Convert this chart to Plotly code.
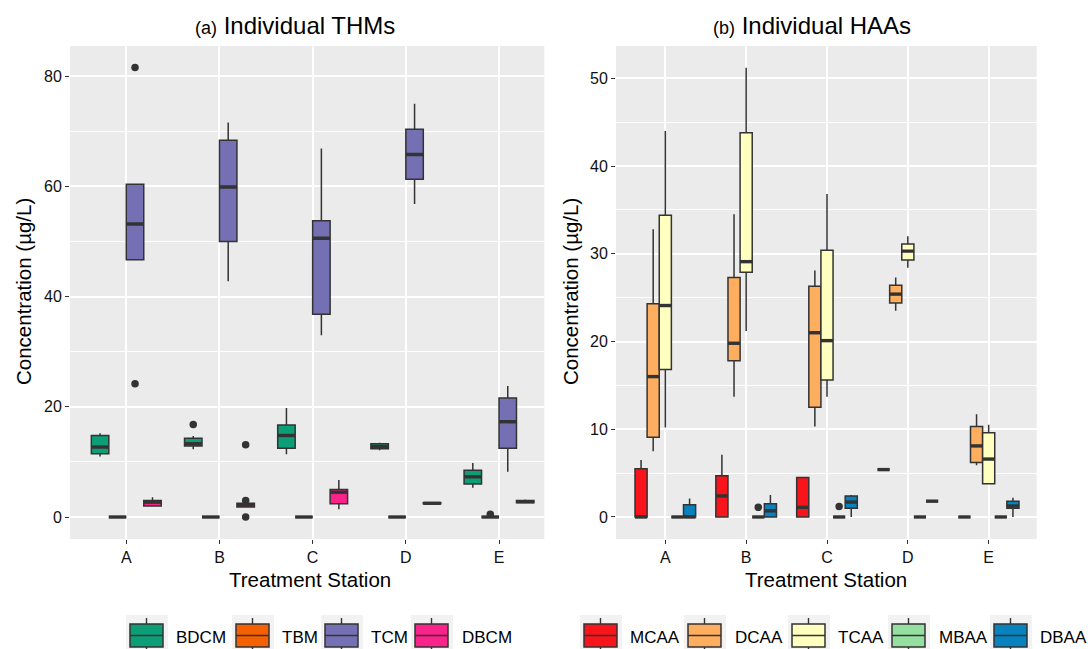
import plotly.graph_objects as go

# ---------------- data ----------------
stations = ["A", "B", "C", "D", "E"]

thm_names = ["BDCM", "TBM", "TCM", "DBCM"]
thm_colors = ["#0C9E77", "#F56002", "#7570B3", "#FA2389"]
thm_lower = [[11.0, 12.3, 11.4, 12.1, 5.3],
             [0, 0, 0, 0, 0],
             [46.7, 42.8, 33.0, 56.8, 8.2],
             [2.0, 1.8, 1.4, 2.4, 2.6]]
thm_q1 = [[11.5, 12.9, 12.5, 12.4, 6.0],
          [0, 0, 0, 0, 0],
          [46.7, 50.0, 36.8, 61.3, 12.5],
          [2.0, 1.8, 2.4, 2.4, 2.6]]
thm_median = [[12.7, 13.3, 14.8, 12.8, 7.3],
              [0, 0, 0, 0, 0],
              [53.2, 59.9, 50.6, 65.8, 17.3],
              [2.7, 2.2, 4.5, 2.5, 2.8]]
thm_q3 = [[14.8, 14.3, 16.7, 13.3, 8.5],
          [0, 0, 0, 0, 0],
          [60.4, 68.4, 53.8, 70.4, 21.6],
          [3.0, 2.5, 5.0, 2.6, 3.0]]
thm_upper = [[15.2, 14.7, 19.8, 13.5, 9.8],
             [0, 0, 0, 0, 0],
             [60.4, 71.6, 66.9, 75.0, 23.8],
             [3.6, 2.5, 6.7, 2.6, 3.2]]
thm_outliers = [[[], [16.8], [], [], []],
                [[], [], [], [], [0.5]],
                [[81.6, 24.2], [], [], [], []],
                [[], [13.1, 3.0, 0.0], [], [], []]]

haa_names = ["MCAA", "DCAA", "TCAA", "MBAA", "DBAA"]
haa_colors = ["#F8141A", "#FDAE5E", "#FFFFC0", "#95DFA0", "#0683BF"]
haa_lower = [[0, 0, 0, 5.4, 0],
             [7.5, 13.7, 10.3, 23.5, 5.9],
             [10.2, 21.2, 13.7, 28.4, 3.8],
             [0, 0, 0, 0, 0],
             [0, 0, 0, 1.8, 0]]
haa_q1 = [[0, 0, 0, 5.4, 0],
          [9.1, 17.8, 12.5, 24.4, 6.2],
          [16.8, 27.9, 15.6, 29.3, 3.8],
          [0, 0, 0, 0, 0],
          [0, 0, 1.0, 1.8, 1.0]]
haa_median = [[0, 2.4, 1.1, 5.4, 0],
              [16.0, 19.8, 21.0, 25.4, 8.1],
              [24.1, 29.1, 20.1, 30.3, 6.6],
              [0, 0, 0, 0, 0],
              [0, 0.7, 1.7, 1.8, 1.25]]
haa_q3 = [[5.5, 4.7, 4.5, 5.4, 0],
          [24.3, 27.3, 26.3, 26.4, 10.3],
          [34.4, 43.8, 30.4, 31.1, 9.6],
          [0, 0, 0, 0, 0],
          [1.4, 1.5, 2.4, 1.8, 1.8]]
haa_upper = [[6.5, 7.1, 4.5, 5.4, 0],
             [32.8, 34.5, 28.1, 27.3, 11.7],
             [44.0, 51.2, 36.8, 32.0, 10.5],
             [0, 0, 0, 0, 0],
             [2.1, 2.5, 2.5, 1.8, 2.2]]
haa_outliers = [[[], [], [], [], []],
                [[], [], [], [], []],
                [[], [], [], [], []],
                [[], [1.1], [1.2], [], []],
                [[], [], [], [], []]]

# ---------------- styling ----------------
W, H = 1088, 649
FONT = "Liberation Sans, Arial, sans-serif"
DARK = "#333333"
PANEL = "#EBEBEB"


def X(px):
    return px / W


def Y(py):
    return 1 - py / H


fig = go.Figure()


def add_panel(names, colors, lower, q1, med, q3, upper, outl, xref, yref):
    n = len(names)
    w = 0.75 / n
    for s in range(n):
        xs = [i + (s - (n - 1) / 2) * w for i in range(len(stations))]
        fig.add_trace(go.Box(
            x=xs, q1=q1[s], median=med[s], q3=q3[s],
            lowerfence=lower[s], upperfence=upper[s],
            width=w, whiskerwidth=0, boxpoints=False,
            fillcolor=colors[s], line=dict(color=DARK, width=1.5),
            name=names[s], showlegend=False, hoverinfo="skip",
            xaxis=xref, yaxis=yref))
        # thick median line (ggplot style)
        mx, my = [], []
        for i, xc in enumerate(xs):
            mx += [xc - w / 2, xc + w / 2, None]
            my += [med[s][i], med[s][i], None]
        fig.add_trace(go.Scatter(x=mx, y=my, mode="lines",
                                 line=dict(color=DARK, width=3.4),
                                 showlegend=False, hoverinfo="skip",
                                 xaxis=xref, yaxis=yref))
        ox, oy = [], []
        for i, xc in enumerate(xs):
            for v in outl[s][i]:
                ox.append(xc)
                oy.append(v)
        if ox:
            fig.add_trace(go.Scatter(x=ox, y=oy, mode="markers",
                                     marker=dict(color=DARK, size=7.5),
                                     showlegend=False, hoverinfo="skip",
                                     xaxis=xref, yaxis=yref))


add_panel(thm_names, thm_colors, thm_lower, thm_q1, thm_median, thm_q3,
          thm_upper, thm_outliers, "x", "y")
add_panel(haa_names, haa_colors, haa_lower, haa_q1, haa_median, haa_q3,
          haa_upper, haa_outliers, "x2", "y2")

xcommon = dict(tickmode="array", tickvals=list(range(len(stations))),
               ticktext=stations, showgrid=True, gridcolor="white",
               gridwidth=1.6, zeroline=False, showline=False,
               ticks="outside", ticklen=4, tickcolor=DARK, tickwidth=1.1,
               tickfont=dict(family=FONT, size=16, color="#111111"),
               fixedrange=True)
ycommon = dict(showgrid=True, gridcolor="white", gridwidth=1.6,
               zeroline=False, showline=False, ticks="outside", ticklen=4,
               tickcolor=DARK, tickwidth=1.1,
               tickfont=dict(family=FONT, size=16, color="#111111"),
               domain=[Y(539), Y(46)], fixedrange=True)

fig.update_layout(
    width=W, height=H,
    margin=dict(l=0, r=0, t=0, b=0),
    paper_bgcolor="white", plot_bgcolor=PANEL,
    xaxis=dict(xcommon, domain=[X(70), X(544.3)], range=[-0.604, 4.486],
               anchor="y"),
    xaxis2=dict(xcommon, domain=[X(616), X(1036.7)], range=[-0.61, 4.594],
                anchor="y2"),
    yaxis=dict(ycommon, range=[-3.99, 85.5], tickvals=[0, 20, 40, 60, 80],
               minor=dict(tickvals=[10, 30, 50, 70], showgrid=True,
                          gridcolor="white", gridwidth=0.8, ticks=""),
               anchor="x"),
    yaxis2=dict(ycommon, range=[-2.51, 53.68],
                tickvals=[0, 10, 20, 30, 40, 50],
                minor=dict(tickvals=[5, 15, 25, 35, 45], showgrid=True,
                           gridcolor="white", gridwidth=0.8, ticks=""),
                anchor="x2"),
    showlegend=False,
)

# ---------------- titles ----------------
ann = []
ann.append(dict(x=X(295), y=Y(25), xref="paper", yref="paper",
                text="<span style='font-size:18px'>(a)</span> Individual THMs",
                showarrow=False, font=dict(family=FONT, size=24, color="black"),
                xanchor="center", yanchor="middle"))
ann.append(dict(x=X(812), y=Y(25), xref="paper", yref="paper",
                text="<span style='font-size:18px'>(b)</span> Individual HAAs",
                showarrow=False, font=dict(family=FONT, size=24, color="black"),
                xanchor="center", yanchor="middle"))
for cx in (310, 826):
    ann.append(dict(x=X(cx), y=Y(579), xref="paper", yref="paper",
                    text="Treatment Station", showarrow=False,
                    font=dict(family=FONT, size=20.5, color="black"),
                    xanchor="center", yanchor="middle"))
for cx in (24, 571):
    ann.append(dict(x=X(cx), y=Y(292), xref="paper", yref="paper",
                    text="Concentration (µg/L)", showarrow=False,
                    textangle=-90,
                    font=dict(family=FONT, size=20.5, color="black"),
                    xanchor="center", yanchor="middle"))

# ---------------- legends (drawn as keys) ----------------
shapes = []


def legend_key(left, color):
    shapes.append(dict(type="rect", xref="paper", yref="paper",
                       x0=X(left), x1=X(left + 42), y0=Y(615), y1=Y(660),
                       fillcolor="#F2F2F2", line=dict(width=0), layer="above"))
    cx = left + 20.5
    shapes.append(dict(type="line", xref="paper", yref="paper",
                       x0=X(cx), x1=X(cx), y0=Y(618), y1=Y(655),
                       line=dict(color=DARK, width=1.4), layer="above"))
    shapes.append(dict(type="rect", xref="paper", yref="paper",
                       x0=X(left + 4), x1=X(left + 37), y0=Y(624), y1=Y(647),
                       fillcolor=color, line=dict(color=DARK, width=1.5),
                       layer="above"))
    shapes.append(dict(type="line", xref="paper", yref="paper",
                       x0=X(left + 4), x1=X(left + 37), y0=Y(635.5),
                       y1=Y(635.5), line=dict(color=DARK, width=1.5),
                       layer="above"))


thm_key_left = [126, 232, 321, 411]
thm_text_left = [174, 280, 369, 460]
for s, name in enumerate(thm_names):
    legend_key(thm_key_left[s], thm_colors[s])
    ann.append(dict(x=X(thm_text_left[s]), y=Y(637), xref="paper",
                    yref="paper", text=name, showarrow=False,
                    font=dict(family=FONT, size=17, color="black"),
                    xanchor="left", yanchor="middle"))

haa_key_left = [580, 684, 788, 888, 990]
haa_text_left = [628, 733, 836, 937, 1038]
for s, name in enumerate(haa_names):
    legend_key(haa_key_left[s], haa_colors[s])
    ann.append(dict(x=X(haa_text_left[s]), y=Y(637), xref="paper",
                    yref="paper", text=name, showarrow=False,
                    font=dict(family=FONT, size=17, color="black"),
                    xanchor="left", yanchor="middle"))

fig.update_layout(annotations=ann, shapes=shapes)
fig.write_html("out.html")
